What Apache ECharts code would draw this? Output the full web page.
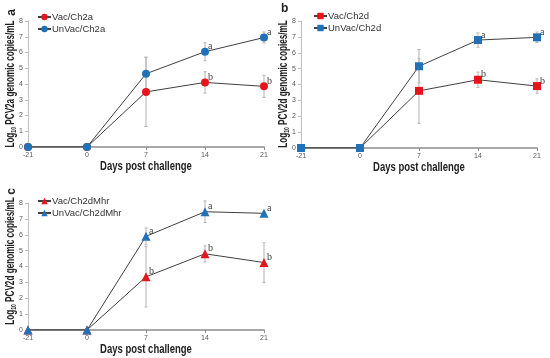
<!DOCTYPE html>
<html><head><meta charset="utf-8">
<script src="https://cdn.jsdelivr.net/npm/echarts@6/dist/echarts.min.js"></script>
<style>html,body{margin:0;padding:0;background:#fff}#c{width:550px;height:358px}</style>
</head><body><div id="c"></div>
<script>
const days = ['-21', '0', '7', '14', '21'];

// Panel a (PCV2a)
const aVac = [0, 0, 3.5, 4.1, 3.85];
const aVacErr = [0, 0, 2.2, 0.68, 0.7];
const aUn = [0, 0, 4.65, 6.05, 6.95];
const aUnErr = [0, 0, 1.05, 0.57, 0.35];
const aVacLetters = ['', '', '', 'b', 'b'];
const aUnLetters = ['', '', '', 'a', 'a'];

// Panel b (PCV2d)
const bVac = [0, 0, 3.6, 4.3, 3.9];
const bVacErr = [0, 0, 2.05, 0.48, 0.45];
const bUn = [0, 0, 5.15, 6.8, 6.97];
const bUnErr = [0, 0, 1.05, 0.45, 0.33];
const bVacLetters = ['', '', '', 'b', 'b'];
const bUnLetters = ['', '', '', 'a', 'a'];

// Panel c (PCV2d, Mhr)
const cVac = [0, 0, 3.35, 4.8, 4.25];
const cVacErr = [0, 0, 1.9, 0.5, 1.25];
const cUn = [0, 0, 5.9, 7.45, 7.35];
const cUnErr = [0, 0, 0.53, 0.68, 0.08];
const cVacLetters = ['', '', 'b', 'b', 'b'];
const cUnLetters = ['', '', 'a', 'a', 'a'];

const RED = '#e5151c', BLUE = '#2171b8';
const FONT = 'Liberation Sans';

const panels = [
  {tag: 'a', yName: 'PCV2a', vac: aVac, vacErr: aVacErr, un: aUn, unErr: aUnErr, vl: aVacLetters, ul: aUnLetters,
   sVac: 'Vac/Ch2a', sUn: 'UnVac/Ch2a', symbol: 'circle', grid: {left: 28, top: 21, width: 236, height: 126},
   legend: {left: 37, top: 12}, yTitle: [11, 84], xTitle: [146, 166], tagPos: [6, 9], tagRot: true},
  {tag: 'b', yName: 'PCV2d', vac: bVac, vacErr: bVacErr, un: bUn, unErr: bUnErr, vl: bVacLetters, ul: bUnLetters,
   sVac: 'Vac/Ch2d', sUn: 'UnVac/Ch2d', symbol: 'rect', grid: {left: 301, top: 21, width: 236, height: 127},
   legend: {left: 313, top: 11}, yTitle: [284, 84], xTitle: [419, 167], tagPos: [281, 3], tagRot: false},
  {tag: 'c', yName: 'PCV2d', vac: cVac, vacErr: cVacErr, un: cUn, unErr: cUnErr, vl: cVacLetters, ul: cUnLetters,
   sVac: 'Vac/Ch2dMhr', sUn: 'UnVac/Ch2dMhr', symbol: 'triangle', grid: {left: 28, top: 203, width: 236, height: 127},
   legend: {left: 37, top: 196}, yTitle: [11, 261], xTitle: [146, 349], tagPos: [6, 188], tagRot: true}
];

const grids = [], xAxes = [], yAxes = [], series = [], legends = [], graphics = [];

function errSeries(i, vals, errs) {
  return {
    type: 'custom', xAxisIndex: i, yAxisIndex: i, z: 1, silent: true,
    data: vals.map((v, k) => [k, v - errs[k], v + errs[k]]),
    renderItem: function (params, api) {
      const lo = api.coord([api.value(0), api.value(1)]);
      const hi = api.coord([api.value(0), api.value(2)]);
      if (Math.abs(hi[1] - lo[1]) < 0.5) return null;
      const st = {stroke: '#b3b3b3', lineWidth: 1};
      return {type: 'group', children: [
        {type: 'line', shape: {x1: lo[0], y1: lo[1], x2: hi[0], y2: hi[1]}, style: st},
        {type: 'line', shape: {x1: lo[0] - 1.5, y1: lo[1], x2: lo[0] + 1.5, y2: lo[1]}, style: st},
        {type: 'line', shape: {x1: hi[0] - 1.5, y1: hi[1], x2: hi[0] + 1.5, y2: hi[1]}, style: st}
      ]};
    }
  };
}
function letterSeries(i, vals, letters) {
  return {
    type: 'custom', xAxisIndex: i, yAxisIndex: i, z: 5, silent: true,
    data: vals.map((v, k) => [k, v, letters[k]]),
    renderItem: function (params, api) {
      const t = letters[params.dataIndex];
      if (!t) return null;
      const p = api.coord([api.value(0), api.value(1)]);
      return {type: 'text', x: p[0] + 3, y: p[1] - 5,
        style: {text: t, fill: '#404040', font: '10px "Liberation Serif"', textAlign: 'left', textVerticalAlign: 'middle'}};
    }
  };
}

panels.forEach((p, i) => {
  grids.push(p.grid);
  xAxes.push({
    type: 'category', gridIndex: i, data: days, boundaryGap: false,
    axisLine: {lineStyle: {color: '#8c8c8c', width: 1.5}},
    axisTick: {show: true, length: 3, lineStyle: {color: '#8c8c8c'}},
    axisLabel: {fontSize: 7, color: '#595959', margin: 5, fontFamily: FONT}
  });
  yAxes.push({
    type: 'value', gridIndex: i, min: 0, max: 8, interval: 1,
    splitLine: {show: false},
    axisLine: {show: true, lineStyle: {color: '#bfbfbf', width: 1}},
    axisTick: {show: true, length: 3, lineStyle: {color: '#bfbfbf'}},
    axisLabel: {fontSize: 7, color: '#595959', margin: 5, fontFamily: FONT}
  });
  series.push(errSeries(i, p.vac, p.vacErr));
  series.push(errSeries(i, p.un, p.unErr));
  series.push({
    name: p.sVac, type: 'line', xAxisIndex: i, yAxisIndex: i, data: p.vac, z: 3,
    symbol: p.symbol, symbolSize: p.symbol === 'triangle' ? 9 : 8, showAllSymbol: true,
    lineStyle: {color: '#404040', width: 1}, itemStyle: {color: RED}
  });
  series.push({
    name: p.sUn, type: 'line', xAxisIndex: i, yAxisIndex: i, data: p.un, z: 3,
    symbol: p.symbol, symbolSize: p.symbol === 'triangle' ? 9 : 8, showAllSymbol: true,
    lineStyle: {color: '#404040', width: 1}, itemStyle: {color: BLUE}
  });
  series.push(letterSeries(i, p.vac, p.vl));
  series.push(letterSeries(i, p.un, p.ul));
  legends.push({
    data: [p.sVac, p.sUn], orient: 'vertical', left: p.legend.left, top: p.legend.top,
    itemWidth: 13, itemHeight: 8, itemGap: 2, padding: 0,
    textStyle: {fontFamily: FONT, fontSize: 9.5, color: '#333', padding: [0, 0, 0, -4]}
  });
  // y-axis title (rotated, condensed like Calibri)
  graphics.push({
    type: 'text', x: p.yTitle[0], y: p.yTitle[1], rotation: Math.PI / 2, scaleX: 0.68, scaleY: 1,
    style: {
      text: '{b|Log}{s|10}{b| ' + p.yName + ' genomic copies/mL}',
      align: 'center', verticalAlign: 'middle', textAlign: 'center', textVerticalAlign: 'middle',
      rich: {
        b: {fontFamily: FONT, fontWeight: 'bold', fontSize: 12, fill: '#222', color: '#222'},
        s: {fontFamily: FONT, fontWeight: 'bold', fontSize: 7.5, fill: '#222', color: '#222', padding: [5, 0, 0, 0]}
      }
    }
  });
  // x-axis title
  graphics.push({
    type: 'text', x: p.xTitle[0], y: p.xTitle[1], scaleX: 0.73, scaleY: 1,
    style: {text: 'Days post challenge', font: 'bold 13px "Liberation Sans"', fill: '#222',
      align: 'center', verticalAlign: 'middle', textAlign: 'center', textVerticalAlign: 'middle'}
  });
  // panel tag
  graphics.push({
    type: 'text', x: p.tagPos[0], y: p.tagPos[1], rotation: p.tagRot ? Math.PI / 2 : 0,
    style: {text: p.tag, font: 'bold 12px "Liberation Sans"', fill: '#222',
      align: p.tagRot ? 'right' : 'left', verticalAlign: 'top', textAlign: p.tagRot ? 'right' : 'left', textVerticalAlign: 'top'}
  });
});

const chart = echarts.init(document.getElementById('c'), null, {renderer: 'canvas'});
chart.setOption({
  animation: false, backgroundColor: '#fff',
  grid: grids, xAxis: xAxes, yAxis: yAxes, series: series, legend: legends, graphic: graphics
});
</script></body></html>
